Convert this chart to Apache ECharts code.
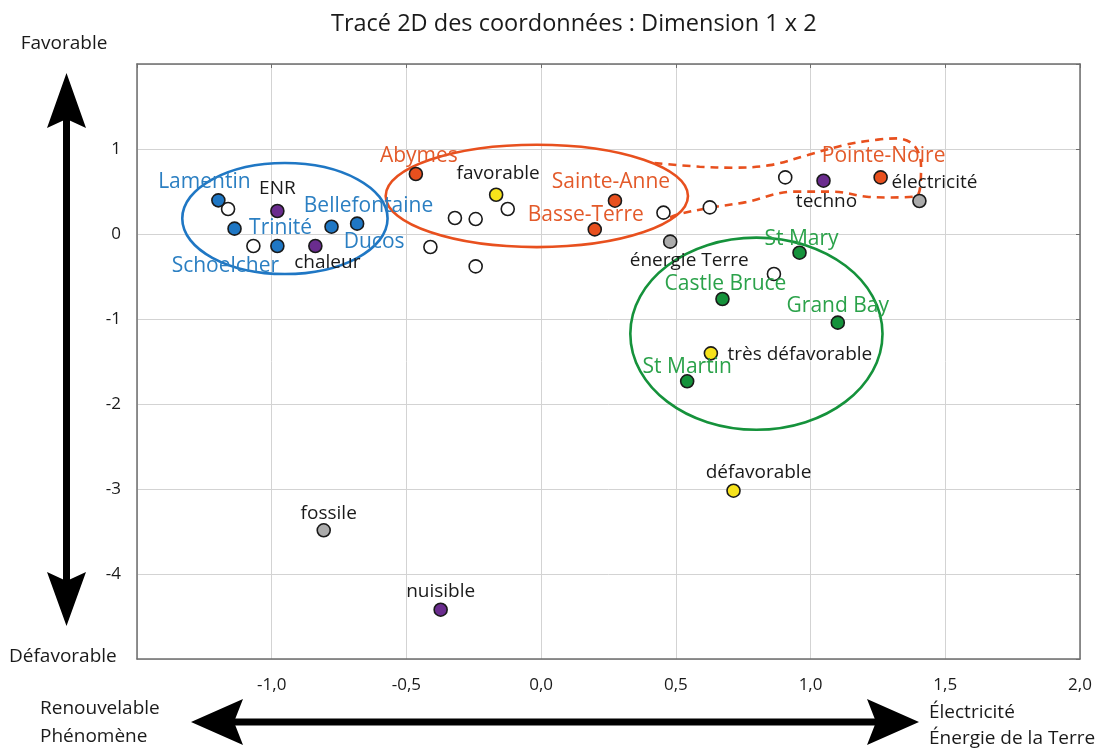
<!DOCTYPE html>
<html>
<head>
<meta charset="utf-8">
<script src="https://cdn.jsdelivr.net/npm/echarts@6/dist/echarts.min.js"></script>
<style>html,body{margin:0;padding:0;background:#fff;}#c{width:1102px;height:749px;}</style>
</head>
<body>
<div id="c"></div>
<script>
// ---- data ----
const titleText = 'Tracé 2D des coordonnées : Dimension 1 x 2';
const xTicks = [-1.0, -0.5, 0.0, 0.5, 1.0, 1.5, 2.0];
const yTicks = [1, 0, -1, -2, -3, -4];

const martiniqueNames = ['Lamentin', 'Trinité', 'Schoelcher', 'Bellefontaine', 'Ducos'];
const martiniqueX = [-1.198, -1.138, -0.979, -0.778, -0.683];
const martiniqueY = [0.396, 0.063, -0.141, 0.086, 0.122];

const guadeloupeNames = ['Abymes', 'Sainte-Anne', 'Basse-Terre', 'Pointe-Noire'];
const guadeloupeX = [-0.465, 0.274, 0.199, 1.260];
const guadeloupeY = [0.706, 0.392, 0.054, 0.666];

const dominiqueNames = ['St Mary', 'Castle Bruce', 'Grand Bay', 'St Martin'];
const dominiqueX = [0.959, 0.673, 1.101, 0.542];
const dominiqueY = [-0.220, -0.765, -1.043, -1.733];

const opinionNames = ['favorable', 'très défavorable', 'défavorable'];
const opinionX = [-0.167, 0.630, 0.714];
const opinionY = [0.462, -1.404, -3.02];

const perceptionNames = ['ENR', 'chaleur', 'techno', 'nuisible'];
const perceptionX = [-0.979, -0.838, 1.048, -0.373];
const perceptionY = [0.271, -0.141, 0.627, -4.42];

const sourceNames = ['énergie Terre', 'électricité', 'fossile'];
const sourceX = [0.479, 1.404, -0.807];
const sourceY = [-0.090, 0.388, -3.486];

const otherX = [-1.162, -1.068, -0.411, -0.320, -0.243, -0.124, -0.243, 0.454, 0.626, 0.906, 0.864];
const otherY = [0.294, -0.141, -0.153, 0.188, 0.176, 0.294, -0.381, 0.251, 0.313, 0.666, -0.471];

// ellipses: centre x, centre y, radius x, radius y (data units)
const ellipseCx = [-0.951, -0.016, 0.799];
const ellipseCy = [0.182, 0.448, -1.173];
const ellipseRx = [0.381, 0.561, 0.468];
const ellipseRy = [0.653, 0.602, 1.13];

// dashed loop (data units)
const loopX = [0.421, 0.588, 0.711, 0.850, 0.990, 1.130, 1.250, 1.320, 1.385, 1.410, 1.395, 1.300, 1.209, 1.083, 0.934, 0.760, 0.626, 0.503, 0.477];
const loopY = [0.835, 0.792, 0.780, 0.810, 0.930, 1.050, 1.110, 1.125, 1.040, 0.800, 0.450, 0.430, 0.439, 0.498, 0.498, 0.375, 0.309, 0.227, 0.192];

// ---- styles ----
const BLUE = '#1f77c4', BLUE_T = '#2b7fc2';
const ORANGE = '#e8501e', ORANGE_T = '#e35a2a';
const GREEN = '#15923b', GREEN_T = '#2ba24a';
const PURPLE = '#6a2c8e', YELLOW = '#f6e21b', GRAY = '#ababab';
const TXT = '#1a1a1a';
const FONT = '"Open Sans", "Noto Sans", sans-serif';
const ellipseColors = [BLUE, ORANGE, GREEN];

const labelOffsets = {
  'Lamentin': [-14, -18], 'Trinité': [46, -1], 'Schoelcher': [-52, 20], 'Bellefontaine': [37, -21],
  'Ducos': [17, 18], 'Abymes': [3, -18], 'Sainte-Anne': [-4, -19], 'Basse-Terre': [-9, -14],
  'Pointe-Noire': [3, -21], 'St Mary': [2, -14], 'Castle Bruce': [3, -15], 'Grand Bay': [0, -17],
  'St Martin': [0, -14], 'favorable': [2, -21], 'très défavorable': [89, 1], 'défavorable': [25, -18],
  'ENR': [0, -22], 'chaleur': [12, 17], 'techno': [3, 21], 'nuisible': [0, -18],
  'énergie Terre': [19, 19], 'électricité': [15, -18], 'fossile': [5, -17]
};

function group(names, xs, ys, fill, textColor, fontSize) {
  return xs.map((x, i) => {
    const name = names ? names[i] : '';
    const item = { name: name, value: [x, ys[i]], itemStyle: { color: fill } };
    if (names) {
      item.label = { show: true, position: 'inside', offset: labelOffsets[name] || [0, -18],
        color: textColor, fontSize: fontSize, fontFamily: FONT, formatter: '{b}' };
    } else {
      item.label = { show: false };
    }
    return item;
  });
}

const points = [].concat(
  group(null, otherX, otherY, '#ffffff'),
  group(martiniqueNames, martiniqueX, martiniqueY, BLUE, BLUE_T, 21),
  group(guadeloupeNames, guadeloupeX, guadeloupeY, ORANGE, ORANGE_T, 21),
  group(dominiqueNames, dominiqueX, dominiqueY, GREEN, GREEN_T, 21),
  group(opinionNames, opinionX, opinionY, YELLOW, TXT, 19),
  group(perceptionNames, perceptionX, perceptionY, PURPLE, TXT, 19),
  group(sourceNames, sourceX, sourceY, GRAY, TXT, 19)
);

const ellipseData = ellipseCx.map((c, i) => [c, ellipseCy[i], ellipseRx[i], ellipseRy[i]]);
const loopData = loopX.map((x, i) => [x, loopY[i]]);

const chart = echarts.init(document.getElementById('c'), null, { renderer: 'canvas' });

const axisLineStyle = { color: '#6e6e6e', width: 1.5 };
const gridLineStyle = { color: '#d3d3d3', width: 1 };

const option = {
  backgroundColor: '#ffffff',
  animation: false,
  textStyle: { fontFamily: FONT },
  title: {
    text: titleText, left: 326, top: 7,
    textStyle: { fontFamily: FONT, fontSize: 23.5, fontWeight: 'normal', color: TXT }
  },
  grid: { left: 137, right: 22, top: 64, bottom: 90, containLabel: false },
  xAxis: [{
    type: 'value', min: -1.5, max: 2.0, interval: 0.5, position: 'bottom',
    axisLine: { show: true, onZero: false, lineStyle: axisLineStyle },
    axisTick: { show: false },
    splitLine: { show: true, lineStyle: gridLineStyle },
    axisLabel: {
      color: TXT, fontSize: 17, fontFamily: FONT, margin: 18,
      formatter: v => (xTicks.some(t => Math.abs(t - v) < 1e-9) ? v.toFixed(1).replace('.', ',') : '')
    }
  }, {
    type: 'value', min: -1.5, max: 2.0, interval: 0.5, position: 'top',
    axisLine: { show: true, onZero: false, lineStyle: axisLineStyle },
    axisTick: { show: true, inside: true, length: 4, lineStyle: { color: '#6e6e6e' } },
    splitLine: { show: false }, axisLabel: { show: false }
  }],
  yAxis: [{
    type: 'value', min: -5, max: 2, interval: 1, position: 'left',
    axisLine: { show: true, onZero: false, lineStyle: axisLineStyle },
    axisTick: { show: false },
    splitLine: { show: true, lineStyle: gridLineStyle },
    axisLabel: {
      color: TXT, fontSize: 17, fontFamily: FONT, margin: 16,
      formatter: v => (yTicks.indexOf(v) >= 0 ? String(v) : '')
    }
  }, {
    type: 'value', min: -5, max: 2, interval: 1, position: 'right',
    axisLine: { show: true, onZero: false, lineStyle: axisLineStyle },
    axisTick: { show: true, inside: true, length: 4, lineStyle: { color: '#6e6e6e' } },
    splitLine: { show: false }, axisLabel: { show: false }
  }],
  series: [
    {
      type: 'custom', z: 2, silent: true,
      data: ellipseData,
      encode: { x: 0, y: 1 },
      renderItem: (params, api) => {
        const c = api.coord([api.value(0), api.value(1)]);
        const s = api.size([api.value(2), api.value(3)]);
        return {
          type: 'ellipse',
          shape: { cx: c[0], cy: c[1], rx: s[0], ry: s[1] },
          style: { fill: 'none', stroke: ellipseColors[params.dataIndex], lineWidth: 2.6 }
        };
      }
    },
    {
      type: 'line', z: 2, silent: true, data: loopData, smooth: 0.35,
      symbol: 'none',
      lineStyle: { color: ORANGE, width: 2.6, type: [8, 6] }
    },
    {
      type: 'scatter', z: 5, data: points, symbol: 'circle', symbolSize: 13,
      itemStyle: { borderColor: '#1a1a1a', borderWidth: 1.6, opacity: 1 }
    }
  ],
  graphic: [
    // vertical double arrow
    { type: 'rect', shape: { x: 63, y: 115, width: 7, height: 470 }, style: { fill: '#000' } },
    { type: 'polygon', shape: { points: [[66.5, 73], [86, 128], [66.5, 119], [47, 128]] }, style: { fill: '#000' } },
    { type: 'polygon', shape: { points: [[66.5, 626], [86, 572], [66.5, 581], [47, 572]] }, style: { fill: '#000' } },
    // horizontal double arrow
    { type: 'rect', shape: { x: 230, y: 718.5, width: 650, height: 7 }, style: { fill: '#000' } },
    { type: 'polygon', shape: { points: [[191, 722], [243, 699], [234, 722], [243, 745]] }, style: { fill: '#000' } },
    { type: 'polygon', shape: { points: [[919, 722], [867, 699], [876, 722], [867, 745]] }, style: { fill: '#000' } },
    // texts
    { type: 'text', x: 64, y: 44, style: { text: 'Favorable', fill: TXT, font: '19px ' + FONT, textAlign: 'center', textVerticalAlign: 'middle' } },
    { type: 'text', x: 9, y: 657, style: { text: 'Défavorable', fill: TXT, font: '19px ' + FONT, textAlign: 'left', textVerticalAlign: 'middle' } },
    { type: 'text', x: 40, y: 709, style: { text: 'Renouvelable', fill: TXT, font: '19px ' + FONT, textAlign: 'left', textVerticalAlign: 'middle' } },
    { type: 'text', x: 40, y: 737, style: { text: 'Phénomène', fill: TXT, font: '19px ' + FONT, textAlign: 'left', textVerticalAlign: 'middle' } },
    { type: 'text', x: 929, y: 713, style: { text: 'Électricité', fill: TXT, font: '19px ' + FONT, textAlign: 'left', textVerticalAlign: 'middle' } },
    { type: 'text', x: 929, y: 739, style: { text: 'Énergie de la Terre', fill: TXT, font: '19px ' + FONT, textAlign: 'left', textVerticalAlign: 'middle' } }
  ]
};
chart.setOption(option);
</script>
</body>
</html>
